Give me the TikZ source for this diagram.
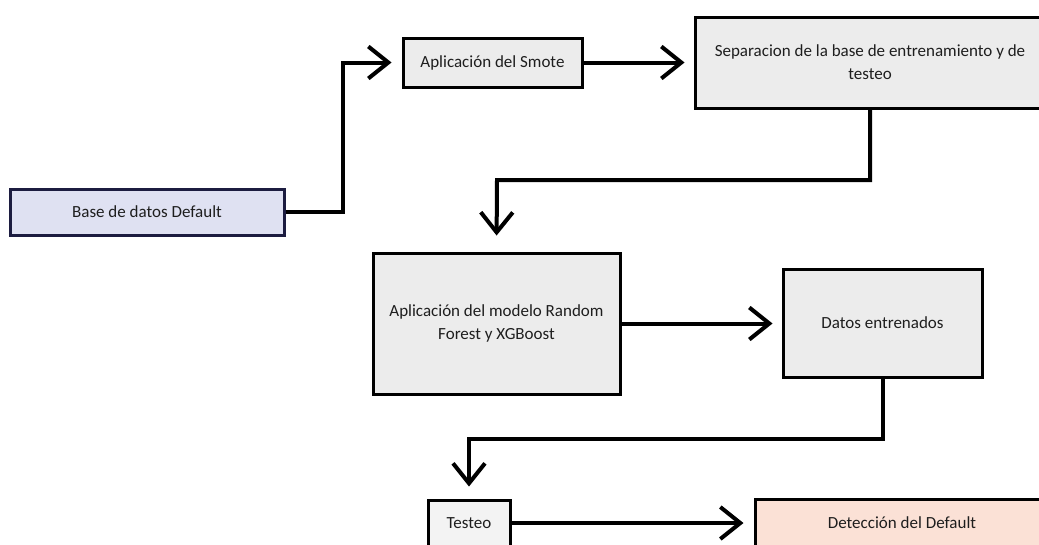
\documentclass[tikz,border=0pt]{standalone}
\usepackage{fontspec}
\setmainfont{Carlito}
\usetikzlibrary{arrows.meta}

\definecolor{boxgray}{HTML}{ECECEC}
\definecolor{lightgray}{HTML}{F3F3F3}
\definecolor{basefill}{HTML}{DFE1F2}
\definecolor{basedraw}{HTML}{1C1C40}
\definecolor{peach}{HTML}{FBE1D6}
\definecolor{txt}{HTML}{1E1E1E}

\tikzset{
  stage/.style={rectangle, draw=black, line width=3pt, fill=boxgray,
    text=txt, align=center, inner sep=2pt,
    font=\fontsize{17}{23}\selectfont},
  flow/.style={line width=4pt, -{Straight Barb[length=20pt,width=32pt]}}
}

\begin{document}
\begin{tikzpicture}[x=1pt,y=-1pt]
      \useasboundingbox (0,0) rectangle (1039,544);

      \begin{scope}[every node/.style={stage}]
        \node[fill=basefill, draw=basedraw, minimum width=274pt, minimum height=46pt]
          (base) at (147,212) {Base de datos Default};
        \node[minimum width=179pt, minimum height=49pt]
          (smote) at (492.5,62.5) {Aplicación del Smote};
        \node[minimum width=350pt, minimum height=91pt]
          (sep) at (870,62.5) {Separacion de la base de entrenamiento y de\\testeo};
        \node[minimum width=247pt, minimum height=141pt]
          (rf) at (496.5,323.5) {Aplicación del modelo Random\\Forest y XGBoost};
        \node[minimum width=199pt, minimum height=108pt]
          (dat) at (882.5,323) {Datos entrenados};
        \node[fill=lightgray, minimum width=82pt, minimum height=46pt]
          (test) at (469,523) {Testeo};
        \node[fill=peach, minimum width=294pt, minimum height=48pt]
          (det) at (902,523) {Detección del Default};
      \end{scope}

      \coordinate (b1) at (343,212);
      \coordinate (b2) at (497,180);
      \coordinate (b3) at (469,439);

      \begin{scope}[every path/.style={flow}]
        \draw[shorten >=10pt] (base.east) -- (b1) |- (smote.west);
        \draw[shorten >=9pt]  (smote.east) -- (sep.west);
        \draw[shorten >=16pt] (sep.south) |- (b2) -- (rf.north);
        \draw[shorten >=9pt]  (rf.east) -- (rf.east -| dat.west);
        \draw[shorten >=12pt] (dat.south) |- (b3) -- (test.north);
        \draw[shorten >=10pt] (test.east) -- (det.west);
      \end{scope}

    \end{tikzpicture}
\end{document}
